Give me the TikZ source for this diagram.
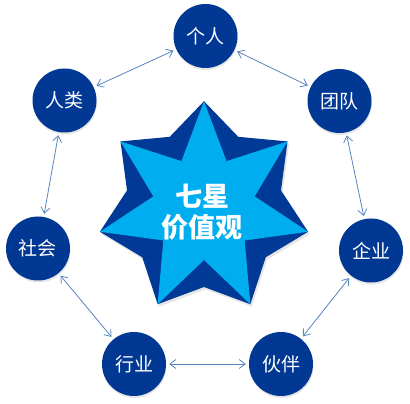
\documentclass[tikz,border=0pt]{standalone}
\usepackage{xcolor}
\usepackage{fontspec}
\newfontfamily\cjk{Noto Sans CJK SC}
\usepackage{tikz}
\usetikzlibrary{arrows.meta,shadows}

\definecolor{circleblue}{RGB}{0,56,148}
\definecolor{stardark}{RGB}{0,58,150}
\definecolor{starlight}{RGB}{0,174,239}
\definecolor{linkblue}{RGB}{88,132,192}

\begin{document}
\begin{tikzpicture}[x=1pt, y=1pt,
    valuenode/.style={circle, fill=circleblue, minimum size=64pt, inner sep=0pt, text=white,
        font=\cjk\fontsize{19}{22}\selectfont,
        drop shadow={opacity=0.2, shadow xshift=0.5pt, shadow yshift=-2pt}},
    linkarrow/.style={{Straight Barb[length=6pt,width=9pt]}-{Straight Barb[length=6pt,width=9pt]},
        linkblue, line width=0.8pt, shorten >=3pt, shorten <=3pt}]
    \useasboundingbox (0,0) rectangle (410,404);

    % Star
    \begin{scope}[shift={(204,196)}]
        \fill[stardark, drop shadow={opacity=0.2, shadow xshift=1.5pt, shadow yshift=-2.5pt}]
            (90:106.8) -- (64.29:79) -- (38.57:106.8) -- (12.86:79) -- (-12.86:106.8) -- (-38.57:79)
            -- (-64.29:106.8) -- (-90:79) -- (-115.71:106.8) -- (-141.43:79) -- (-167.14:106.8)
            -- (-192.86:79) -- (141.43:106.8) -- (115.71:79) -- cycle;
        \fill[starlight]
            (90:106.8) -- (64.29:52) -- (38.57:106.8) -- (12.86:52) -- (-12.86:106.8) -- (-38.57:52)
            -- (-64.29:106.8) -- (-90:52) -- (-115.71:106.8) -- (-141.43:52) -- (-167.14:106.8)
            -- (-192.86:52) -- (141.43:106.8) -- (115.71:52) -- cycle;
    \end{scope}
    \node[text=white, align=center, font=\cjk\bfseries\fontsize{27}{31}\selectfont] (title) at (202,192) {七星\\价值观};

    % Values
    \node[valuenode] (geren) at (205.5,368) {个人};
    \node[valuenode] (tuandui) at (339.5,303) {团队};
    \node[valuenode] (qiye) at (371,153.5) {企业};
    \node[valuenode] (huoban) at (281,40) {伙伴};
    \node[valuenode] (hangye) at (134,40) {行业};
    \node[valuenode] (shehui) at (38,155.5) {社会};
    \node[valuenode] (renlei) at (64.5,303.5) {人类};

    % Arrows
    \draw[linkarrow] (geren) -- (tuandui);
    \draw[linkarrow] (tuandui) -- (qiye);
    \draw[linkarrow] (qiye) -- (huoban);
    \draw[linkarrow] (huoban) -- (hangye);
    \draw[linkarrow] (hangye) -- (shehui);
    \draw[linkarrow] (shehui) -- (renlei);
    \draw[linkarrow] (renlei) -- (geren);
\end{tikzpicture}
\end{document}
